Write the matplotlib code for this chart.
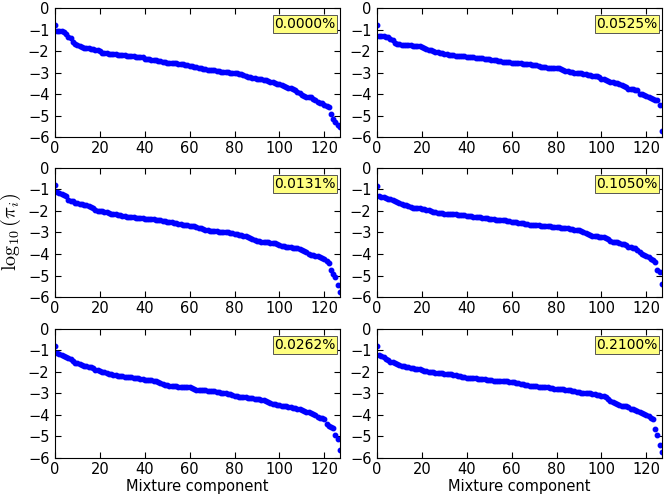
import numpy as np
import matplotlib
matplotlib.use("Agg")
import matplotlib.pyplot as plt

plt.rcParams["mathtext.fontset"] = "cm"

labels = ["0.0000%", "0.0525%", "0.0131%", "0.1050%", "0.0262%", "0.2100%"]

w_0000 = [-0.78, -1.05, -1.07, -1.08, -1.12, -1.2, -1.35, -1.4, -1.6, -1.68,
          -1.72, -1.76, -1.8, -1.84, -1.85, -1.87, -1.9, -1.92, -1.94, -1.96,
          -1.98, -2.08, -2.1, -2.11, -2.12, -2.13, -2.14, -2.15, -2.17, -2.18,
          -2.19, -2.2, -2.21, -2.23, -2.24, -2.25, -2.26, -2.27, -2.28, -2.3,
          -2.36, -2.38, -2.39, -2.41, -2.42, -2.44, -2.46, -2.48, -2.5, -2.52,
          -2.54, -2.55, -2.56, -2.57, -2.58, -2.59, -2.6, -2.62, -2.64, -2.66,
          -2.68, -2.71, -2.74, -2.76, -2.78, -2.8, -2.83, -2.85, -2.86, -2.87,
          -2.88, -2.9, -2.93, -2.95, -2.96, -2.97, -2.98, -2.99, -3.0, -3.01,
          -3.02, -3.04, -3.06, -3.08, -3.11, -3.15, -3.19, -3.22, -3.24, -3.26,
          -3.28, -3.3, -3.31, -3.33, -3.35, -3.39, -3.43, -3.46, -3.48, -3.52,
          -3.55, -3.59, -3.63, -3.68, -3.72, -3.74, -3.76, -3.82, -3.9, -3.97,
          -4.04, -4.1, -4.12, -4.13, -4.15, -4.22, -4.26, -4.35, -4.4, -4.44,
          -4.5, -4.55, -4.6, -4.95, -5.18, -5.3, -5.42, -5.52]

w_0525 = [-0.8, -1.3, -1.31, -1.32, -1.34, -1.36, -1.42, -1.48, -1.62, -1.66,
          -1.68, -1.7, -1.71, -1.72, -1.73, -1.74, -1.75, -1.76, -1.77, -1.79,
          -1.82, -1.86, -1.9, -1.93, -1.96, -2.02, -2.04, -2.05, -2.07, -2.09,
          -2.12, -2.15, -2.17, -2.19, -2.2, -2.21, -2.22, -2.23, -2.24, -2.25,
          -2.27, -2.28, -2.29, -2.3, -2.31, -2.32, -2.33, -2.34, -2.35, -2.36,
          -2.38, -2.4, -2.42, -2.44, -2.46, -2.48, -2.49, -2.51, -2.52, -2.53,
          -2.54, -2.55, -2.56, -2.57, -2.58, -2.59, -2.6, -2.61, -2.62, -2.63,
          -2.65, -2.67, -2.72, -2.74, -2.75, -2.76, -2.77, -2.77, -2.78, -2.79,
          -2.8, -2.81, -2.83, -2.88, -2.92, -2.95, -2.97, -2.99, -3.0, -3.01,
          -3.02, -3.04, -3.06, -3.08, -3.1, -3.12, -3.14, -3.16, -3.18, -3.2,
          -3.3, -3.32, -3.35, -3.4, -3.43, -3.46, -3.48, -3.5, -3.53, -3.56,
          -3.62, -3.68, -3.75, -3.77, -3.78, -3.79, -3.8, -4.0, -4.02, -4.04,
          -4.08, -4.12, -4.18, -4.24, -4.27, -4.3, -4.5, -5.7]

w_0131 = [-0.8, -1.12, -1.15, -1.2, -1.25, -1.3, -1.5, -1.52, -1.55, -1.62,
          -1.64, -1.66, -1.68, -1.7, -1.72, -1.76, -1.82, -1.88, -1.95, -1.98,
          -2.0, -2.02, -2.04, -2.06, -2.1, -2.12, -2.14, -2.16, -2.18, -2.2,
          -2.23, -2.25, -2.27, -2.28, -2.29, -2.3, -2.31, -2.32, -2.33, -2.34,
          -2.35, -2.36, -2.37, -2.38, -2.39, -2.4, -2.42, -2.44, -2.45, -2.47,
          -2.49, -2.51, -2.53, -2.55, -2.57, -2.59, -2.61, -2.63, -2.65, -2.67,
          -2.68, -2.7, -2.72, -2.74, -2.77, -2.8, -2.84, -2.88, -2.9, -2.92,
          -2.93, -2.94, -2.95, -2.96, -2.97, -2.98, -2.99, -3.0, -3.02, -3.04,
          -3.06, -3.08, -3.1, -3.12, -3.15, -3.18, -3.22, -3.27, -3.32, -3.37,
          -3.4, -3.41, -3.42, -3.43, -3.44, -3.46, -3.47, -3.48, -3.5, -3.52,
          -3.58, -3.62, -3.65, -3.67, -3.68, -3.69, -3.7, -3.71, -3.73, -3.76,
          -3.8, -3.85, -3.9, -3.98, -4.04, -4.06, -4.08, -4.1, -4.14, -4.18,
          -4.25, -4.33, -4.42, -4.75, -4.92, -5.05, -5.44, -5.75]

w_1050 = [-0.82, -1.3, -1.33, -1.36, -1.39, -1.42, -1.45, -1.48, -1.52, -1.6,
          -1.65, -1.68, -1.7, -1.73, -1.76, -1.8, -1.84, -1.86, -1.87, -1.88,
          -1.9, -1.92, -1.94, -1.97, -2.0, -2.03, -2.06, -2.08, -2.1, -2.11,
          -2.12, -2.13, -2.13, -2.14, -2.15, -2.16, -2.17, -2.18, -2.19, -2.2,
          -2.22, -2.24, -2.25, -2.26, -2.28, -2.29, -2.3, -2.31, -2.32, -2.34,
          -2.36, -2.38, -2.39, -2.4, -2.41, -2.42, -2.43, -2.44, -2.45, -2.47,
          -2.49, -2.5, -2.52, -2.54, -2.56, -2.58, -2.6, -2.62, -2.63, -2.64,
          -2.65, -2.66, -2.67, -2.68, -2.69, -2.7, -2.71, -2.72, -2.73, -2.74,
          -2.75, -2.76, -2.77, -2.78, -2.79, -2.8, -2.82, -2.85, -2.87, -2.88,
          -2.9, -2.93, -2.98, -3.02, -3.06, -3.1, -3.14, -3.16, -3.18, -3.19,
          -3.2, -3.22, -3.24, -3.28, -3.38, -3.42, -3.44, -3.46, -3.48, -3.52,
          -3.55, -3.6, -3.66, -3.68, -3.7, -3.74, -3.8, -3.9, -3.98, -4.04,
          -4.1, -4.16, -4.22, -4.3, -4.35, -4.75, -4.82, -5.4]

w_0262 = [-0.8, -1.1, -1.15, -1.2, -1.25, -1.3, -1.35, -1.4, -1.48, -1.56,
          -1.6, -1.64, -1.68, -1.71, -1.73, -1.75, -1.77, -1.8, -1.9, -1.92,
          -1.95, -1.98, -2.02, -2.05, -2.08, -2.1, -2.13, -2.16, -2.19, -2.2,
          -2.21, -2.22, -2.23, -2.24, -2.25, -2.26, -2.28, -2.3, -2.32, -2.34,
          -2.36, -2.37, -2.38, -2.39, -2.4, -2.42, -2.46, -2.52, -2.57, -2.6,
          -2.62, -2.64, -2.65, -2.66, -2.67, -2.68, -2.69, -2.7, -2.7, -2.71,
          -2.72, -2.75, -2.8, -2.82, -2.83, -2.84, -2.85, -2.86, -2.87, -2.88,
          -2.89, -2.9, -2.92, -2.94, -2.96, -2.98, -3.0, -3.02, -3.04, -3.08,
          -3.12, -3.14, -3.15, -3.16, -3.17, -3.18, -3.19, -3.21, -3.23, -3.25,
          -3.27, -3.28, -3.3, -3.32, -3.36, -3.4, -3.44, -3.47, -3.5, -3.52,
          -3.54, -3.56, -3.58, -3.6, -3.62, -3.64, -3.66, -3.68, -3.7, -3.72,
          -3.75, -3.8, -3.84, -3.87, -3.9, -3.95, -4.02, -4.08, -4.12, -4.16,
          -4.2, -4.42, -4.5, -4.58, -4.62, -4.92, -5.13, -5.63]

w_2100 = [-0.8, -1.2, -1.25, -1.3, -1.38, -1.46, -1.52, -1.55, -1.58, -1.62,
          -1.68, -1.72, -1.74, -1.76, -1.78, -1.8, -1.82, -1.84, -1.86, -1.88,
          -1.91, -1.94, -1.96, -1.98, -2.0, -2.02, -2.04, -2.05, -2.06, -2.07,
          -2.08, -2.09, -2.1, -2.1, -2.12, -2.16, -2.18, -2.2, -2.22, -2.24,
          -2.26, -2.27, -2.28, -2.29, -2.3, -2.31, -2.32, -2.33, -2.34, -2.36,
          -2.38, -2.39, -2.4, -2.41, -2.42, -2.43, -2.43, -2.44, -2.44, -2.45,
          -2.46, -2.48, -2.5, -2.52, -2.54, -2.56, -2.6, -2.62, -2.64, -2.65,
          -2.66, -2.67, -2.68, -2.69, -2.7, -2.71, -2.72, -2.74, -2.76, -2.77,
          -2.78, -2.79, -2.8, -2.81, -2.82, -2.84, -2.86, -2.88, -2.9, -2.92,
          -2.94, -2.96, -2.97, -2.98, -2.99, -3.0, -3.02, -3.04, -3.06, -3.08,
          -3.1, -3.12, -3.18, -3.25, -3.35, -3.4, -3.45, -3.5, -3.55, -3.56,
          -3.58, -3.6, -3.65, -3.7, -3.74, -3.78, -3.82, -3.86, -3.9, -3.94,
          -3.98, -4.05, -4.15, -4.2, -4.65, -4.92, -5.4, -5.7]

series = [w_0000, w_0525, w_0131, w_1050, w_0262, w_2100]

fig = plt.figure(figsize=(6.69, 4.97), dpi=100)
lefts = [0.0822, 0.5635]
bottoms = [0.7243, 0.4024, 0.0785]
W, H = 0.426, 0.2596

for k, (vals, lab) in enumerate(zip(series, labels)):
    r, c = divmod(k, 2)
    ax = fig.add_axes([lefts[c], bottoms[r], W, H])
    x = np.arange(len(vals))
    ax.plot(x, vals, "o", color="blue", markeredgecolor="blue", markersize=3.2)
    ax.set_xlim(0, 127)
    ax.set_ylim(-6, 0)
    ax.set_xticks(range(0, 121, 20))
    ax.set_yticks(range(-6, 1))
    ax.tick_params(direction="in", top=True, right=True, labelsize=10.5, length=4)
    ax.tick_params(axis="x", pad=3)
    ax.tick_params(axis="y", pad=4)
    ax.text(0.985, 0.93, lab, transform=ax.transAxes, ha="right", va="top", fontsize=10,
            bbox=dict(boxstyle="square,pad=0.12", facecolor="#ffff80", edgecolor="#555555", linewidth=0.7))
    if r == 2:
        ax.set_xlabel("Mixture component", fontsize=10.5, labelpad=1)

fig.text(0.017, 0.533, r"$\log_{10}(\pi_i)$", rotation=90, ha="center", va="center", fontsize=14.5)

fig.savefig("out.png", dpi=100)
